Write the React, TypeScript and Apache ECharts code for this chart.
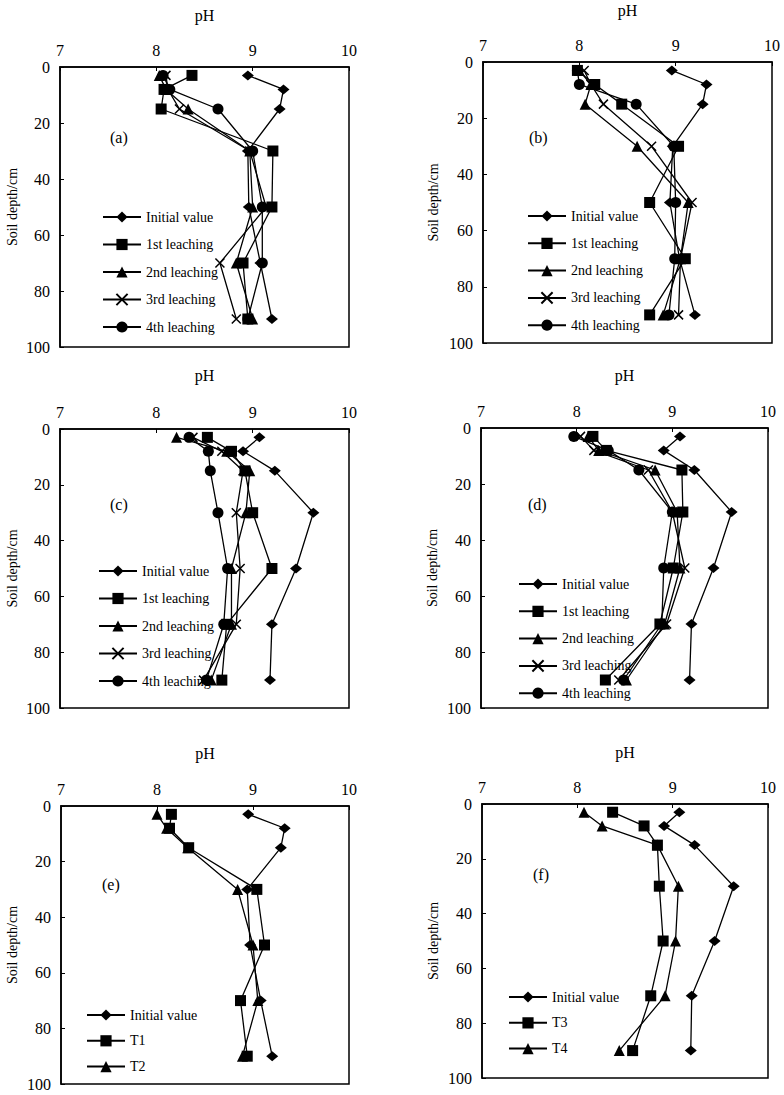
import React, { useEffect, useRef } from "react";
import * as echarts from "echarts";

// Soil depths (cm) at which pH was sampled
const depths = [3, 8, 15, 30, 50, 70, 90];

// Panel (a)
const aInitial = [8.95, 9.32, 9.28, 8.95, 8.96, 9.08, 9.2];
const a1st = [8.37, 8.08, 8.05, 9.21, 9.2, 8.9, 8.95];
const a2nd = [8.03, 8.1, 8.33, 8.97, 9.0, 8.83, 9.0];
const a3rd = [8.1, 8.12, 8.24, 8.97, 9.14, 8.66, 8.83];
const a4th = [8.07, 8.14, 8.64, 9.0, 9.1, 9.1, 8.95];

// Panel (b)
const bInitial = [8.96, 9.32, 9.28, 8.97, 8.94, 9.04, 9.2];
const b1st = [7.98, 8.16, 8.44, 9.03, 8.73, 9.1, 8.73];
const b2nd = [8.0, 8.12, 8.06, 8.6, 9.13, 9.05, 8.87];
const b3rd = [8.05, 8.12, 8.25, 8.75, 9.17, 9.05, 9.03];
const b4th = [7.98, 8.0, 8.59, 8.98, 9.0, 8.99, 8.93];

// Panel (c)
const cInitial = [9.07, 8.9, 9.23, 9.63, 9.45, 9.2, 9.18];
const c1st = [8.53, 8.78, 8.92, 9.0, 9.2, 8.73, 8.68];
const c2nd = [8.21, 8.73, 8.97, 8.93, 8.78, 8.78, 8.57];
const c3rd = [8.38, 8.68, 8.9, 8.83, 8.87, 8.83, 8.49];
const c4th = [8.34, 8.54, 8.56, 8.64, 8.74, 8.7, 8.52];

// Panel (d)
const dInitial = [9.08, 8.91, 9.23, 9.62, 9.43, 9.2, 9.18];
const d1st = [8.17, 8.31, 9.1, 9.11, 9.01, 8.87, 8.3];
const d2nd = [8.12, 8.23, 8.82, 9.05, 9.08, 8.92, 8.52];
const d3rd = [8.04, 8.18, 8.75, 9.0, 9.13, 8.94, 8.44];
const d4th = [7.97, 8.33, 8.65, 9.0, 8.91, 8.89, 8.49];

// Panel (e)
const eInitial = [8.95, 9.33, 9.29, 8.94, 8.97, 9.08, 9.2];
const eT1 = [8.15, 8.13, 8.33, 9.04, 9.12, 8.87, 8.94];
const eT2 = [8.0, 8.1, 8.32, 8.84, 9.0, 9.05, 8.89];

// Panel (f)
const fInitial = [9.07, 8.91, 9.23, 9.64, 9.44, 9.2, 9.19];
const fT3 = [8.37, 8.7, 8.84, 8.86, 8.9, 8.77, 8.58];
const fT4 = [8.07, 8.26, 8.84, 9.06, 9.03, 8.92, 8.44];

// Axis ticks
const phMin = 7;
const phMax = 10;
const phStep = 1;
const depthMin = 0;
const depthMax = 100;
const depthStep = 20;

const FONT = "'Liberation Serif', 'Times New Roman', serif";

const SYMBOLS: Record<string, { symbol: string; size: number | number[] }> = {
  diamond: { symbol: "diamond", size: [12, 10] },
  square: { symbol: "rect", size: 11 },
  triangle: { symbol: "triangle", size: 11 },
  cross: { symbol: "path://M0,0L10,10M10,0L0,10", size: 9 },
  circle: { symbol: "circle", size: 11 },
};

type S = { name: string; shape: string; values: number[] };

const panels: { label: string; series: S[] }[] = [
  {
    label: "(a)",
    series: [
      { name: "Initial value", shape: "diamond", values: aInitial },
      { name: "1st leaching", shape: "square", values: a1st },
      { name: "2nd leaching", shape: "triangle", values: a2nd },
      { name: "3rd leaching", shape: "cross", values: a3rd },
      { name: "4th leaching", shape: "circle", values: a4th },
    ],
  },
  {
    label: "(b)",
    series: [
      { name: "Initial value", shape: "diamond", values: bInitial },
      { name: "1st leaching", shape: "square", values: b1st },
      { name: "2nd leaching", shape: "triangle", values: b2nd },
      { name: "3rd leaching", shape: "cross", values: b3rd },
      { name: "4th leaching", shape: "circle", values: b4th },
    ],
  },
  {
    label: "(c)",
    series: [
      { name: "Initial value", shape: "diamond", values: cInitial },
      { name: "1st leaching", shape: "square", values: c1st },
      { name: "2nd leaching", shape: "triangle", values: c2nd },
      { name: "3rd leaching", shape: "cross", values: c3rd },
      { name: "4th leaching", shape: "circle", values: c4th },
    ],
  },
  {
    label: "(d)",
    series: [
      { name: "Initial value", shape: "diamond", values: dInitial },
      { name: "1st leaching", shape: "square", values: d1st },
      { name: "2nd leaching", shape: "triangle", values: d2nd },
      { name: "3rd leaching", shape: "cross", values: d3rd },
      { name: "4th leaching", shape: "circle", values: d4th },
    ],
  },
  {
    label: "(e)",
    series: [
      { name: "Initial value", shape: "diamond", values: eInitial },
      { name: "T1", shape: "square", values: eT1 },
      { name: "T2", shape: "triangle", values: eT2 },
    ],
  },
  {
    label: "(f)",
    series: [
      { name: "Initial value", shape: "diamond", values: fInitial },
      { name: "T3", shape: "square", values: fT3 },
      { name: "T4", shape: "triangle", values: fT4 },
    ],
  },
];

// Layout (pixels)
const layouts = [
  { grid: { left: 60, top: 67, width: 289, height: 280 }, legend: { left: 102, top: 210, gap: 13.5 }, label: { left: 110, top: 129 }, xGap: 44, yGap: 41 },
  { grid: { left: 483, top: 62, width: 289, height: 281 }, legend: { left: 527, top: 209, gap: 13.3 }, label: { left: 529, top: 129 }, xGap: 44, yGap: 43 },
  { grid: { left: 60, top: 429, width: 289, height: 279 }, legend: { left: 98, top: 564, gap: 13.5 }, label: { left: 110, top: 496 }, xGap: 46, yGap: 41 },
  { grid: { left: 481, top: 428, width: 287, height: 280 }, legend: { left: 518, top: 577, gap: 13.3 }, label: { left: 528, top: 496 }, xGap: 45, yGap: 42 },
  { grid: { left: 61, top: 806, width: 288, height: 278 }, legend: { left: 86, top: 1008, gap: 11.8 }, label: { left: 102, top: 876 }, xGap: 45, yGap: 42 },
  { grid: { left: 482, top: 804, width: 286, height: 274 }, legend: { left: 508, top: 990, gap: 11.8 }, label: { left: 533, top: 866 }, xGap: 44, yGap: 42 },
];

function buildOption() {
  const grid: any[] = [];
  const xAxis: any[] = [];
  const yAxis: any[] = [];
  const legend: any[] = [];
  const title: any[] = [];
  const series: any[] = [];

  panels.forEach((p, i) => {
    const L = layouts[i];
    grid.push({ ...L.grid, show: true, borderColor: "#000", borderWidth: 1.5, backgroundColor: "transparent" });
    xAxis.push({
      type: "value",
      gridIndex: i,
      position: "top",
      min: phMin,
      max: phMax,
      interval: phStep,
      name: "pH",
      nameLocation: "middle",
      nameGap: L.xGap,
      nameTextStyle: { fontSize: 16, color: "#000", fontFamily: FONT },
      axisLine: { show: true, lineStyle: { color: "#000", width: 1.5 } },
      axisTick: { show: true, inside: true, length: 4, lineStyle: { color: "#000", width: 1 } },
      axisLabel: { color: "#000", fontSize: 16, fontFamily: FONT, margin: 9, showMinLabel: true, showMaxLabel: true },
      splitLine: { show: false },
    });
    yAxis.push({
      type: "value",
      gridIndex: i,
      inverse: true,
      min: depthMin,
      max: depthMax,
      interval: depthStep,
      name: "Soil depth/cm",
      nameLocation: "middle",
      nameGap: L.yGap,
      nameTextStyle: { fontSize: 14, color: "#000", fontFamily: FONT },
      axisLine: { show: true, lineStyle: { color: "#000", width: 1.5 } },
      axisTick: { show: true, inside: true, length: 4, lineStyle: { color: "#000", width: 1 } },
      axisLabel: { color: "#000", fontSize: 16, fontFamily: FONT, margin: 10, showMinLabel: true, showMaxLabel: true },
      splitLine: { show: false },
    });
    legend.push({
      orient: "vertical",
      left: L.legend.left,
      top: L.legend.top,
      padding: 0,
      itemWidth: 38,
      itemHeight: 14,
      itemGap: L.legend.gap,
      selectedMode: false,
      data: p.series.map((s) => s.name),
      textStyle: { fontSize: 14, color: "#000", fontFamily: FONT, lineHeight: 14 },
    });
    title.push({
      text: p.label,
      left: L.label.left,
      top: L.label.top,
      padding: 0,
      textStyle: { fontSize: 16, fontWeight: "normal", color: "#000", fontFamily: FONT },
    });
    p.series.forEach((s) => {
      const sym = SYMBOLS[s.shape];
      series.push({
        type: "line",
        name: s.name,
        xAxisIndex: i,
        yAxisIndex: i,
        data: s.values.map((v, j) => [v, depths[j]]),
        symbol: sym.symbol,
        symbolSize: sym.size,
        showAllSymbol: true,
        lineStyle: { color: "#000", width: 1.3 },
        itemStyle:
          s.shape === "cross"
            ? { color: "#000", borderColor: "#000", borderWidth: 1.5 }
            : { color: "#000" },
        emphasis: { disabled: true },
      });
    });
  });

  return {
    animation: false,
    backgroundColor: "#fff",
    textStyle: { fontFamily: FONT },
    grid,
    xAxis,
    yAxis,
    legend,
    title,
    series,
  };
}

export default function App() {
  const ref = useRef<HTMLDivElement>(null);
  useEffect(() => {
    if (!ref.current) return;
    const chart = echarts.init(ref.current, undefined, { renderer: "svg" });
    chart.setOption(buildOption() as any);
    return () => chart.dispose();
  }, []);
  return (
    <div
      ref={ref}
      style={{ position: "absolute", left: 0, top: 0, width: 784, height: 1095, background: "#fff" }}
    />
  );
}
